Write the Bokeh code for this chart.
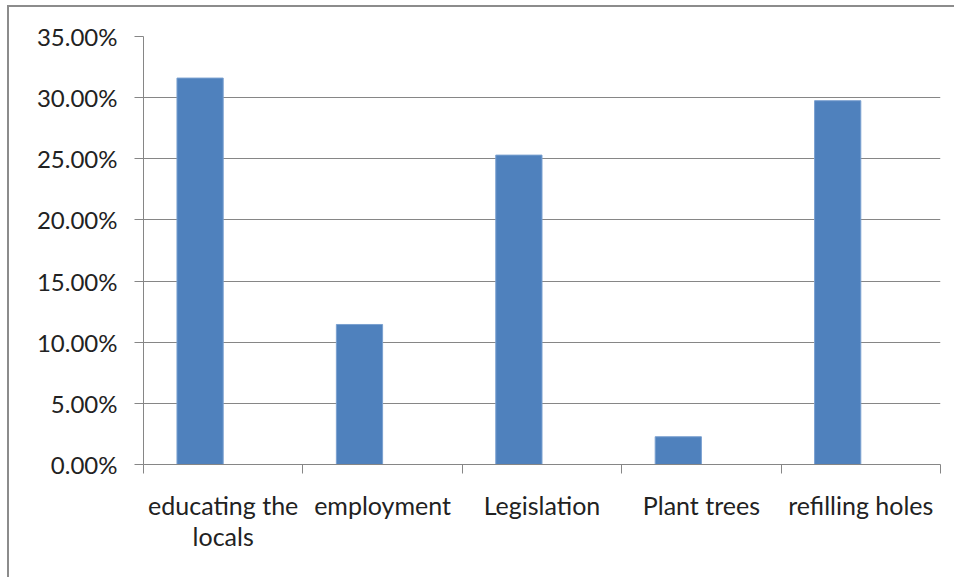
from bokeh.plotting import figure
from bokeh.models import FixedTicker, NumeralTickFormatter, Range1d, ColumnDataSource
from bokeh.embed import file_html
from bokeh.resources import INLINE

categories = ["educating the\nlocals", "employment", "Legislation", "Plant trees", "refilling holes"]
values = [0.3160, 0.1145, 0.2530, 0.0227, 0.2975]
y_ticks = [0.0, 0.05, 0.10, 0.15, 0.20, 0.25, 0.30, 0.35]

centers = [i + 0.5 for i in range(len(categories))]
bar_w = 0.29
src = ColumnDataSource(dict(x=[c - bar_w / 2 for c in centers], top=values))

FONT = "Lato"
GRAY = "#868686"

p = figure(width=947, height=572, output_backend="svg", toolbar_location=None,
           x_range=Range1d(0, len(categories)), y_range=Range1d(0, 0.35),
           min_border_left=134, min_border_top=29, min_border_right=16, min_border_bottom=115)
p.margin = (5, 0, 0, 7)
p.styles = {"border-left": "2px solid #8c8c8c", "border-top": "2px solid #8c8c8c"}
p.outline_line_color = None
p.background_fill_color = "white"
p.border_fill_color = "white"

p.vbar(x="x", top="top", width=bar_w, bottom=0, source=src,
       fill_color="#4F81BD", line_color="#7aa0d0", line_width=1)

# y axis
p.yaxis.ticker = FixedTicker(ticks=y_ticks, minor_ticks=[])
p.yaxis.formatter = NumeralTickFormatter(format="0.00%")
p.yaxis.axis_line_color = GRAY
p.yaxis.major_tick_line_color = GRAY
p.yaxis.major_tick_out = 9
p.yaxis.major_tick_in = 0
p.yaxis.minor_tick_line_color = None
p.yaxis.major_label_standoff = 17
p.yaxis.major_label_text_font = FONT
p.yaxis.major_label_text_font_size = "24px"
p.yaxis.major_label_text_color = "#222222"

# x axis
p.xaxis.ticker = FixedTicker(ticks=centers, minor_ticks=list(range(len(categories) + 1)))
p.xaxis.major_label_overrides = {c: lab for c, lab in zip(centers, categories)}
p.xaxis.axis_line_color = GRAY
p.xaxis.major_tick_line_color = None
p.xaxis.major_tick_out = 0
p.xaxis.major_tick_in = 0
p.xaxis.minor_tick_line_color = GRAY
p.xaxis.minor_tick_out = 9
p.xaxis.minor_tick_in = 0
p.xaxis.major_label_standoff = 16
p.xaxis.major_label_text_font = FONT
p.xaxis.major_label_text_font_size = "25px"
p.xaxis.major_label_text_color = "#222222"
p.xaxis.major_label_text_line_height = 1.04

p.xgrid.grid_line_color = None
p.ygrid.ticker = FixedTicker(ticks=y_ticks)
p.ygrid.grid_line_color = GRAY
p.ygrid.grid_line_width = 1

open("out.html", "w").write(file_html(p, INLINE))
